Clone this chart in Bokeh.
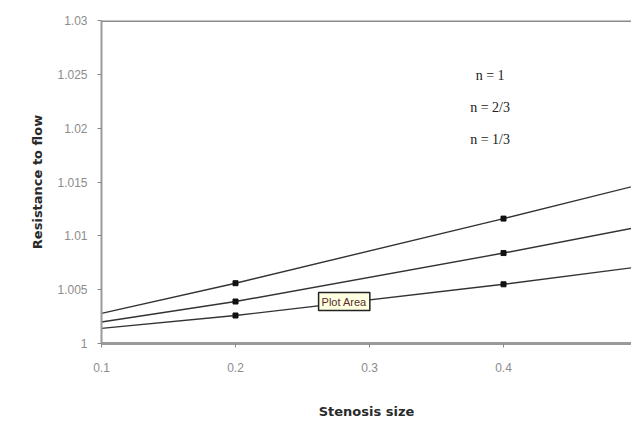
from bokeh.plotting import figure
from bokeh.models import Range1d, FixedTicker, Span, Label, ColumnDataSource
from bokeh.embed import file_html
from bokeh.resources import INLINE

# ---- data ----
stenosis = [0.1, 0.2, 0.4, 0.5]
r_n1 = [1.0028, 1.0056, 1.0116, 1.0147]
r_n23 = [1.0020, 1.0039, 1.0084, 1.0108]
r_n13 = [1.0014, 1.0026, 1.0055, 1.0071]
marker_x = [0.2, 0.4]
marker_n1 = [1.0056, 1.0116]
marker_n23 = [1.0039, 1.0084]
marker_n13 = [1.0026, 1.0055]
series_labels = ["n = 1", "n = 2/3", "n = 1/3"]
y_ticks = [1.0, 1.005, 1.01, 1.015, 1.02, 1.025, 1.03]
y_tick_labels = ["1", "1.005", "1.01", "1.015", "1.02", "1.025", "1.03"]
x_ticks = [0.1, 0.2, 0.3, 0.4, 0.5]

p = figure(width=631, height=424, output_backend="svg", toolbar_location=None,
           x_range=Range1d(0.1, 0.4955), y_range=Range1d(1.0, 1.03),
           min_border_left=101, min_border_top=20, min_border_right=0, min_border_bottom=81)
p.outline_line_color = None
p.background_fill_color = "white"
p.border_fill_color = "white"
p.xgrid.visible = False
p.ygrid.visible = False

# axes
p.xaxis.ticker = FixedTicker(ticks=x_ticks)
p.yaxis.ticker = FixedTicker(ticks=y_ticks)
p.yaxis.major_label_overrides = {t: l for t, l in zip(y_ticks, y_tick_labels)}
for ax in (p.xaxis[0], p.yaxis[0]):
    ax.axis_line_color = "#9a9a9a"
    ax.major_tick_line_color = "#888888"
    ax.major_tick_in = 0
    ax.major_tick_out = 4
    ax.minor_tick_line_color = None
    ax.major_label_text_font = "Liberation Sans"
    ax.major_label_text_font_size = "12px"
    ax.major_label_text_color = "#8c8c8c"
    ax.axis_label_text_font = "DejaVu Sans"
    ax.axis_label_text_font_style = "bold"
    ax.axis_label_text_font_size = "13px"
    ax.axis_label_text_color = "#2a2a2a"
p.xaxis.axis_line_width = 3
p.yaxis.axis_line_width = 2
p.xaxis.major_label_standoff = 15
p.yaxis.major_label_standoff = 10
p.xaxis.axis_label = "Stenosis size"
p.yaxis.axis_label = "Resistance to flow"
p.xaxis.axis_label_standoff = 29
p.yaxis.axis_label_standoff = 9

# top border line at 1.03
p.add_layout(Span(location=1.03, dimension="width", line_color="#8a8a8a", line_width=3))

src = ColumnDataSource(dict(x=stenosis, a=r_n1, b=r_n23, c=r_n13))
msrc = ColumnDataSource(dict(x=marker_x, a=marker_n1, b=marker_n23, c=marker_n13))
for col in ("a", "b", "c"):
    p.line("x", col, source=src, line_color="#333333", line_width=1.4)
    p.scatter("x", col, source=msrc, marker="square", size=5, color="#111111")

# series annotations
ann_y = [1.0249, 1.0219, 1.01895]
for txt, yy in zip(series_labels, ann_y):
    p.add_layout(Label(x=0.39, y=yy, text=txt, text_align="center", text_baseline="middle",
                       text_font="Liberation Serif", text_font_size="14px", text_color="#222222"))

# Excel "Plot Area" tooltip
p.add_layout(Label(x=0.262, y=1.0039, text="Plot Area", text_align="left", text_baseline="middle",
                   text_font="Liberation Sans", text_font_size="11px", text_color="#5a2a2a",
                   background_fill_color="#ffffe1", border_line_color="#222222",
                   border_line_width=1.5, padding=3))

open("out.html", "w").write(file_html(p, INLINE))
